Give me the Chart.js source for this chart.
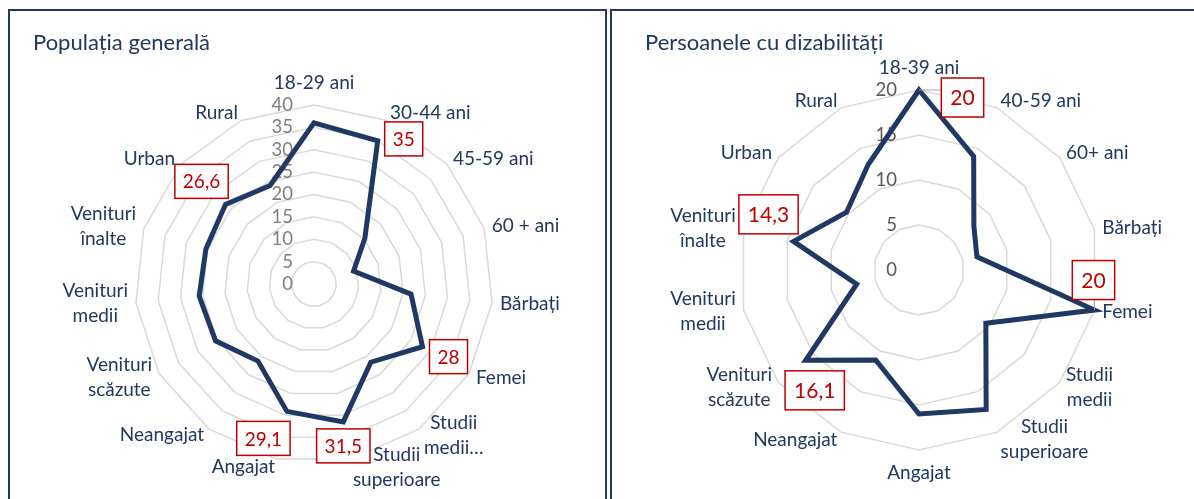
<!DOCTYPE html>
<html lang="ro">
<head>
<meta charset="utf-8">
<title>Populația generală / Persoanele cu dizabilități</title>
<script src="https://cdn.jsdelivr.net/npm/chart.js@4.4.1/dist/chart.umd.min.js"></script>
<style>
  html, body { margin: 0; padding: 0; background: #fff; }
  body { width: 1194px; height: 499px; position: relative; overflow: hidden; }
  .panel { position: absolute; top: 9px; height: 520px; border: 2px solid #1f3864; box-sizing: border-box; }
  #panel-gen { left: 8px; width: 599px; }
  #panel-diz { left: 610px; width: 600px; }
  canvas { position: absolute; top: 0; }
  #chart-gen { left: 0; }
  #chart-diz { left: 610px; }
</style>
</head>
<body>
<div class="panel" id="panel-gen"></div>
<div class="panel" id="panel-diz"></div>
<canvas id="chart-gen" width="608" height="499"></canvas>
<canvas id="chart-diz" width="584" height="499"></canvas>
<script>
const FONT = 'Lato, "Open Sans", sans-serif';
const NAVY = '#1f3864';
const RED = '#c00000';

// --- Populația generală ---
const GEN_TITLE = 'Populația generală';
const GEN_LABELS = ['18-29 ani', '30-44 ani', '45-59 ani', '60 + ani', 'Bărbați', 'Femei',
  ['Studii', 'medii…'], ['Studii', 'superioare'], 'Angajat', 'Neangajat',
  ['Venituri', 'scăzute'], ['Venituri', 'medii'], ['Venituri', 'înalte'], 'Urban', 'Rural'];
const GEN_VALUES = [36, 35, 15.3, 9.3, 21.8, 28, 21.6, 31.5, 29.1, 21.3, 25.4, 25.8, 25.4, 26.6, 24.1];
const GEN_TICKS = [0, 5, 10, 15, 20, 25, 30, 35, 40];
const GEN_BOXED = [1, 5, 7, 8, 13];

// --- Persoanele cu dizabilități ---
const DIZ_TITLE = 'Persoanele cu dizabilități';
const DIZ_LABELS = ['18-39 ani', '40-59 ani', '60+ ani', 'Bărbați', 'Femei',
  ['Studii', 'medii'], ['Studii', 'superioare'], 'Angajat', 'Neangajat',
  ['Venituri', 'scăzute'], ['Venituri', 'medii'], ['Venituri', 'înalte'], 'Urban', 'Rural'];
const DIZ_VALUES = [20, 14, 7.8, 6.6, 20, 9.5, 17.2, 16, 11.1, 16.1, 7.1, 14.3, 10.3, 13];
const DIZ_TICKS = [0, 5, 10, 15, 20];
const DIZ_BOXED = [0, 4, 9, 11];

// layout / style per panel (canvas coordinates)
const GEN_LAYOUT = {
  padding: { left: 135, top: 105, right: 115, bottom: 36 },
  titleX: 33, titleY: 50,
  tickColor: '#7f7f7f', tickGap: 21,
  boxFont: 19, boxH: 34, boxPadX: 8,
  boxOffsets: { 1: [26, -2], 5: [26, 10], 7: [0, 24], 8: [-23.5, 27], 13: [-24, -23] },
  leaders: []
};
const DIZ_LAYOUT = {
  padding: { left: 129, top: 90, right: 95, bottom: 49 },
  titleX: 35, titleY: 50,
  tickColor: '#595959', tickGap: 22,
  boxFont: 21, boxH: 39, boxPadX: 9,
  boxOffsets: { 0: [43.5, 7.5], 4: [-1, -30], 9: [9, 30], 11: [-25, -27] },
  leaders: [0, 4]
};

const fmt = v => String(v).replace('.', ',');

function drawPointLabels(ctx, r, labels) {
  const R = r.drawingArea;
  const lh = 25;
  ctx.font = '19px ' + FONT;
  ctx.fillStyle = NAVY;
  ctx.textAlign = 'center';
  ctx.textBaseline = 'middle';
  labels.forEach((lab, i) => {
    const lines = Array.isArray(lab) ? lab : [lab];
    const a = r.getIndexAngle(i);
    const sin = Math.sin(a), cos = Math.cos(a);
    const w = Math.max(...lines.map(l => ctx.measureText(l).width));
    const h = lines.length * lh;
    const p = r.getPointPosition(i, R + 8);
    let left, top;
    if (Math.abs(sin) < 0.05) {
      left = p.x - w / 2;
      top = cos > 0 ? r.yCenter - R - 10 - h : r.yCenter + R + 10;
    } else {
      left = sin > 0 ? p.x : p.x - w;
      top = p.y - h / 2;
    }
    lines.forEach((l, k) => ctx.fillText(l, left + w / 2, top + lh * (k + 0.5)));
  });
}

function drawBoxes(chart, r, boxed, L) {
  const ctx = chart.ctx;
  const data = chart.data.datasets[0].data;
  ctx.font = L.boxFont + 'px ' + FONT;
  ctx.textAlign = 'center';
  ctx.textBaseline = 'middle';
  boxed.forEach(i => {
    const p = r.getPointPositionForValue(i, data[i]);
    const [dx, dy] = L.boxOffsets[i];
    const txt = fmt(data[i]);
    const w = ctx.measureText(txt).width + 2 * L.boxPadX;
    const h = L.boxH;
    const cx = p.x + dx, cy = p.y + dy;
    const x0 = cx - w / 2, y0 = cy - h / 2;
    if (L.leaders.includes(i)) {
      const lx = Math.min(Math.max(p.x, x0), x0 + w);
      const ly = Math.min(Math.max(p.y, y0), y0 + h);
      ctx.strokeStyle = '#a6a6a6';
      ctx.lineWidth = 1;
      ctx.beginPath(); ctx.moveTo(p.x, p.y); ctx.lineTo(lx, ly); ctx.stroke();
    }
    ctx.fillStyle = '#fff';
    ctx.fillRect(x0, y0, w, h);
    ctx.strokeStyle = RED;
    ctx.lineWidth = 1.5;
    ctx.strokeRect(x0, y0, w, h);
    ctx.fillStyle = RED;
    ctx.fillText(txt, cx, cy + 1);
  });
}

function excelRadar(title, labels, boxed, L) {
  return {
    id: 'excelRadar',
    beforeDatasetsDraw(chart) {
      const ctx = chart.ctx, r = chart.scales.r;
      ctx.save();
      ctx.font = '18.5px ' + FONT;
      ctx.fillStyle = L.tickColor;
      ctx.textAlign = 'right';
      ctx.textBaseline = 'middle';
      r.ticks.forEach(t => {
        const y = r.yCenter - r.getDistanceFromCenterForValue(t.value);
        ctx.fillText(t.label, r.xCenter - L.tickGap, y);
      });
      ctx.restore();
    },
    afterDatasetsDraw(chart) {
      const ctx = chart.ctx, r = chart.scales.r;
      ctx.save();
      ctx.font = '22px ' + FONT;
      ctx.fillStyle = NAVY;
      ctx.textAlign = 'left';
      ctx.textBaseline = 'alphabetic';
      ctx.fillText(title, L.titleX, L.titleY);
      drawPointLabels(ctx, r, labels);
      drawBoxes(chart, r, boxed, L);
      ctx.restore();
    }
  };
}

function makeRadar(canvasId, title, labels, values, ticks, boxed, L) {
  return new Chart(document.getElementById(canvasId), {
    type: 'radar',
    data: {
      labels: labels,
      datasets: [{
        data: values,
        borderColor: NAVY,
        borderWidth: 5,
        borderJoinStyle: 'miter',
        fill: false,
        pointRadius: 0,
        pointHoverRadius: 0,
        tension: 0
      }]
    },
    options: {
      responsive: false,
      devicePixelRatio: 1,
      animation: false,
      layout: { padding: L.padding },
      plugins: { legend: { display: false }, tooltip: { enabled: false } },
      scales: {
        r: {
          min: ticks[0],
          max: ticks[ticks.length - 1],
          ticks: { display: false, stepSize: ticks[1] - ticks[0] },
          grid: { color: '#d9d9d9', lineWidth: 1.5 },
          angleLines: { display: false },
          pointLabels: { display: false }
        }
      }
    },
    plugins: [excelRadar(title, labels, boxed, L)]
  });
}

makeRadar('chart-gen', GEN_TITLE, GEN_LABELS, GEN_VALUES, GEN_TICKS, GEN_BOXED, GEN_LAYOUT);
makeRadar('chart-diz', DIZ_TITLE, DIZ_LABELS, DIZ_VALUES, DIZ_TICKS, DIZ_BOXED, DIZ_LAYOUT);
</script>
</body>
</html>
